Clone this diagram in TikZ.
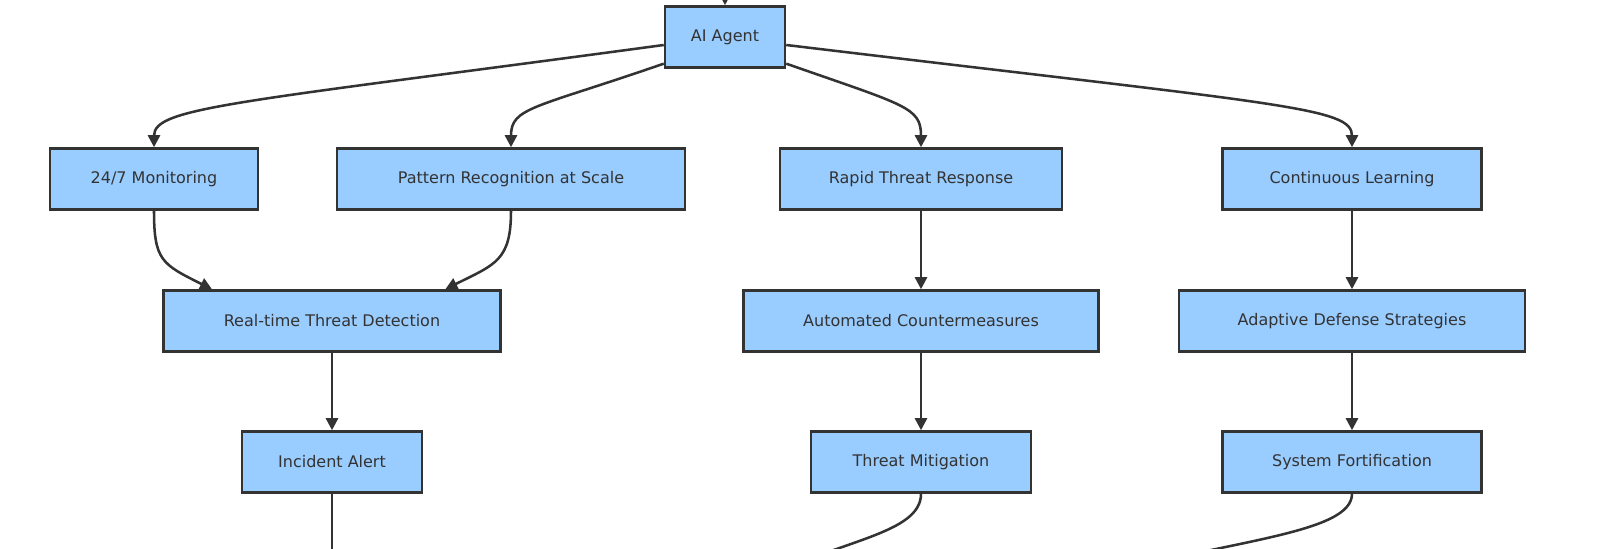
\documentclass[tikz,border=0pt]{standalone}
\usepackage{fontspec}
\setmainfont{DejaVu Sans}
\usetikzlibrary{arrows.meta}
\definecolor{nodefill}{RGB}{153,204,255}
\definecolor{ink}{RGB}{51,51,51}
\begin{document}
\begin{tikzpicture}[x=0.75pt,y=-0.75pt,
  box/.style={draw=ink,fill=nodefill,line width=1.9pt,minimum height=45.75pt,inner sep=0pt,font=\fontsize{12}{14}\selectfont,text=ink},
  arr/.style={draw=ink,line width=1.9pt,-{Triangle[length=9pt,width=9pt]}},
  ln/.style={draw=ink,line width=1.9pt}]
\useasboundingbox (0,0) rectangle (1600,549);
\node[box,minimum width=90pt] (ai) at (725,37) {AI Agent};
\node[box,minimum width=156pt] (mon) at (154,179) {24/7 Monitoring};
\node[box,minimum width=261pt] (pat) at (511,179) {Pattern Recognition at Scale};
\node[box,minimum width=211.5pt] (rap) at (921,179) {Rapid Threat Response};
\node[box,minimum width=194pt] (con) at (1352,179) {Continuous Learning};
\node[box,minimum width=253pt] (rtd) at (332,321) {Real-time Threat Detection};
\node[box,minimum width=266pt] (aut) at (921,321) {Automated Countermeasures};
\node[box,minimum width=259.5pt] (ada) at (1352,321) {Adaptive Defense Strategies};
\node[box,minimum width=135pt] (inc) at (332,462) {Incident Alert};
\node[box,minimum width=165pt] (mit) at (921,462) {Threat Mitigation};
\node[box,minimum width=194pt] (sys) at (1352,462) {System Fortification};
\coordinate (top) at (725,-20);
\coordinate (b1) at (332,580);
\coordinate (b2) at (760,580);
\coordinate (b3) at (1080,580);
\draw[arr] (top) -- (ai.north);
\draw[arr] ([yshift=-6]ai.west) .. controls +(-430,58) and +(0,-40) .. (mon.north);
\draw[arr] ([yshift=-20]ai.west) .. controls +(-130,45) and +(0,-40) .. (pat.north);
\draw[arr] ([yshift=-20]ai.east) .. controls +(120,42) and +(0,-40) .. (rap.north);
\draw[arr] ([yshift=-6]ai.east) .. controls +(500,60) and +(0,-40) .. (con.north);
\draw[arr] (mon.south) .. controls +(0,50) and +(-50,-25) .. ([xshift=-90]rtd.north);
\draw[arr] (pat.south) .. controls +(0,50) and +(50,-25) .. ([xshift=85]rtd.north);
\draw[arr] (rap) -- (aut);
\draw[arr] (con) -- (ada);
\draw[arr] (rtd) -- (inc);
\draw[arr] (aut) -- (mit);
\draw[arr] (ada) -- (sys);
\draw[ln] (inc.south) -- (b1);
\draw[ln] (mit.south) .. controls +(0,40) and +(80,-40) .. (b2);
\draw[ln] (sys.south) .. controls +(0,40) and +(150,-40) .. (b3);
\end{tikzpicture}
\end{document}
